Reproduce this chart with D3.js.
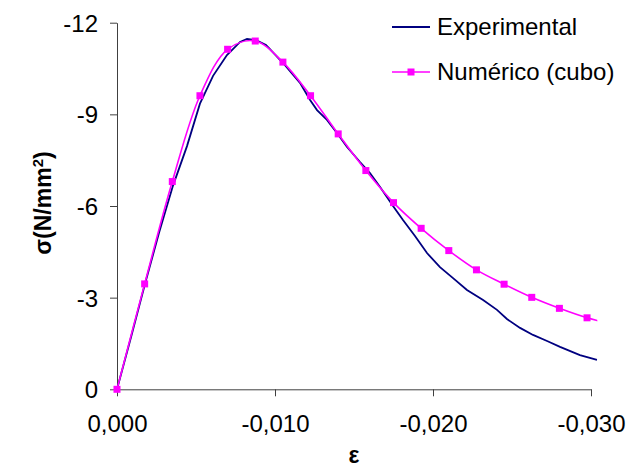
<!DOCTYPE html>
<html>
<head>
<meta charset="utf-8">
<script src="https://cdn.jsdelivr.net/npm/d3@7"></script>
<style>
  body { margin: 0; background: #fff; }
  #chart { width: 629px; height: 473px; }
  text { font-family: "Liberation Sans", Arial, sans-serif; fill: #000; }
</style>
</head>
<body>
<div id="chart"></div>
<script>
// Experimental curve (strain, stress N/mm2)
const expStrain = [0, -0.00089, -0.00177, -0.00266, -0.00354, -0.00443, -0.00525, -0.00608, -0.00696, -0.00779,
  -0.00823, -0.0088, -0.00943, -0.01051, -0.01158, -0.01222, -0.01266, -0.01329, -0.01392, -0.01456,
  -0.01538, -0.01601, -0.01665, -0.01747, -0.0181, -0.01886, -0.01962, -0.02044, -0.02127, -0.02215,
  -0.02317, -0.02405, -0.02468, -0.02551, -0.02633, -0.02722, -0.02804, -0.0293, -0.03038];
const expStress = [0, -1.71, -3.45, -5.12, -6.66, -7.96, -9.35, -10.26, -10.94, -11.37,
  -11.47, -11.43, -11.27, -10.68, -10.03, -9.47, -9.14, -8.82, -8.39, -7.93,
  -7.44, -7.08, -6.62, -6.0, -5.54, -5.02, -4.46, -4.0, -3.64, -3.25,
  -2.92, -2.6, -2.3, -2.01, -1.78, -1.58, -1.39, -1.12, -0.96];

// Numerical model (cube)
const numStrain = [0, -0.00175, -0.0035, -0.00525, -0.007, -0.00875, -0.0105, -0.01225, -0.014, -0.01575,
  -0.0175, -0.01925, -0.021, -0.02275, -0.0245, -0.02625, -0.028, -0.02975, -0.0315];
const numStress = [0, -3.45, -6.8, -9.61, -11.13, -11.4, -10.71, -9.61, -8.36, -7.16,
  -6.11, -5.27, -4.54, -3.91, -3.44, -3.01, -2.65, -2.34, -2.12];

const xTicks = [0, -0.01, -0.02, -0.03];
const yTicks = [0, -3, -6, -9, -12];
const xLimit = -0.0304; // plotted data stops here

const seriesNames = ["Experimental", "Numérico (cubo)"];
const colors = ["#000080", "#ff00ff"];

function renderChart(containerSelector) {
    const container = d3.select(containerSelector);
    const width = 629, height = 473;
    const margin = { top: 22.7, right: 38, bottom: 83.7, left: 117 };

    const svg = container.append("svg")
        .attr("width", width)
        .attr("height", height);

    const x = d3.scaleLinear()
        .domain([0, -0.03])
        .range([margin.left, width - margin.right]);

    const y = d3.scaleLinear()
        .domain([0, -12])
        .range([height - margin.bottom, margin.top]);

    const loc = d3.formatLocale({ decimal: ",", thousands: ".", grouping: [3], currency: ["", ""], minus: "-" });
    const fx = loc.format(".3f");
    const fy = loc.format("d");

    // Axes
    const gy = svg.append("g")
        .attr("transform", `translate(${margin.left},0)`)
        .call(d3.axisLeft(y).tickValues(yTicks).tickFormat(fy).tickSize(7).tickSizeOuter(0).tickPadding(12));
    gy.selectAll("text").attr("dy", "0.36em");

    const gx = svg.append("g")
        .attr("transform", `translate(0,${height - margin.bottom})`)
        .call(d3.axisBottom(x).tickValues(xTicks).tickFormat(fx).tickSize(7).tickSizeOuter(0).tickPadding(19));

    [gx, gy].forEach(g => {
        g.selectAll("path, line").attr("stroke", "#404040");
        g.selectAll("text").style("font-size", "24px").attr("fill", "#000");
    });

    // clip to where the data stops
    svg.append("clipPath").attr("id", "clip")
        .append("rect")
        .attr("x", x(0) - 5).attr("y", 0)
        .attr("width", x(xLimit) - x(0) + 5).attr("height", height);

    const plot = svg.append("g").attr("clip-path", "url(#clip)");

    const expData = expStrain.map((s, i) => [s, expStress[i]]);
    const numData = numStrain.map((s, i) => [s, numStress[i]]);

    plot.append("path")
        .datum(expData)
        .attr("fill", "none")
        .attr("stroke", colors[0])
        .attr("stroke-width", 1.8)
        .attr("d", d3.line().x(d => x(d[0])).y(d => y(d[1])));

    plot.append("path")
        .datum(numData)
        .attr("fill", "none")
        .attr("stroke", colors[1])
        .attr("stroke-width", 1.6)
        .attr("d", d3.line().curve(d3.curveCatmullRom.alpha(0.5)).x(d => x(d[0])).y(d => y(d[1])));

    const ms = 7;
    plot.selectAll("rect.marker")
        .data(numData)
        .join("rect")
        .attr("class", "marker")
        .attr("x", d => x(d[0]) - ms / 2)
        .attr("y", d => y(d[1]) - ms / 2)
        .attr("width", ms)
        .attr("height", ms)
        .attr("fill", colors[1]);

    // Axis titles
    const yl = svg.append("text")
        .attr("transform", `translate(51,203) rotate(-90)`)
        .attr("text-anchor", "middle")
        .style("font-size", "23px")
        .style("font-weight", "bold");
    yl.append("tspan").text("σ(N/mm");
    yl.append("tspan").attr("dy", "-0.55em").style("font-size", "15px").text("2");
    yl.append("tspan").attr("dy", "0.36em").text(")");

    svg.append("text")
        .attr("x", (x(0) + x(-0.03)) / 2)
        .attr("y", 463)
        .attr("text-anchor", "middle")
        .style("font-size", "23px")
        .style("font-weight", "bold")
        .text("ε");

    // Legend
    const legend = svg.append("g").attr("transform", "translate(392,27)");
    seriesNames.forEach((name, i) => {
        const lg = legend.append("g").attr("transform", `translate(0, ${i * 45})`);
        lg.append("line").attr("x1", 0).attr("x2", 38).attr("y1", 0).attr("y2", 0)
            .attr("stroke", colors[i]).attr("stroke-width", i === 0 ? 1.8 : 1.6);
        if (i === 1) {
            lg.append("rect").attr("x", 19 - ms / 2).attr("y", -ms / 2)
                .attr("width", ms).attr("height", ms).attr("fill", colors[i]);
        }
        lg.append("text").attr("x", 45).attr("y", 0).attr("dy", "0.35em")
            .style("font-size", "24px").text(name);
    });
}

renderChart("#chart");
</script>
</body>
</html>
